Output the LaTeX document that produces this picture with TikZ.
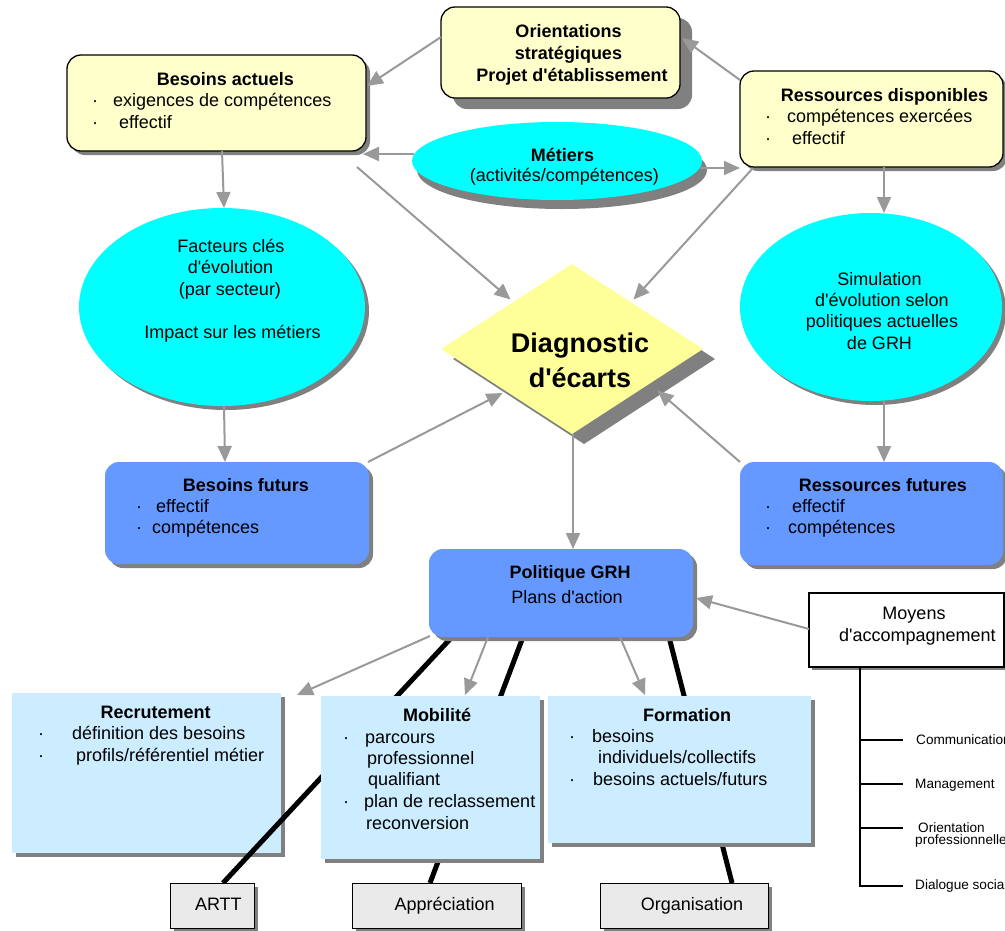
\documentclass[tikz,border=0pt]{standalone}
\usepackage{fontspec}
\setmainfont{Liberation Sans}[Ligatures=TeXOff]
\usetikzlibrary{shapes.geometric,shadows,arrows.meta,calc,backgrounds}

\definecolor{paleyellow}{HTML}{FFFFCC}
\definecolor{diamyellow}{HTML}{FFFF99}
\definecolor{aqua}{HTML}{00FFFF}
\definecolor{midblue}{HTML}{6699FF}
\definecolor{paleblue}{HTML}{CCECFF}
\definecolor{shade}{HTML}{808080}
\definecolor{linkgray}{HTML}{999999}
\definecolor{boxgray}{HTML}{EAEAEA}

\tikzset{
  sh/.style={general shadow={fill=shade, shadow xshift=4pt, shadow yshift=-4pt}},
  bigsh/.style={general shadow={fill=shade, shadow xshift=12pt, shadow yshift=-10pt}},
  box/.style={rectangle, inner sep=0pt, outer sep=0pt},
  yellowbox/.style={box, draw=black, line width=1.3pt, fill=paleyellow, rounded corners=14pt},
  bluebox/.style={box, fill=midblue, rounded corners=14pt, sh},
  actionbox/.style={box, fill=paleblue, sh},
  tagbox/.style={box, draw=black, line width=1pt, fill=boxgray, sh},
  oval/.style={ellipse, fill=aqua, inner sep=0pt, outer sep=0pt},
  link/.style={draw=linkgray, line width=2pt, -{Triangle[length=16pt,width=14pt]}},
  tie/.style={line width=5pt, black},
  tree/.style={line width=1.2pt, black},
  body/.style={font=\fontsize{18}{21.5}\selectfont, anchor=base, inner sep=0pt},
  bodyl/.style={body, anchor=base west},
  head/.style={body, font=\fontsize{18}{21.5}\selectfont\bfseries},
  big/.style={body, font=\fontsize{27}{33}\selectfont\bfseries},
  small/.style={font=\fontsize{13.6}{13}\selectfont, anchor=base west, inner sep=0pt},
}

\begin{document}
\begin{tikzpicture}[x=1pt, y=-1pt]
\useasboundingbox (0,0) rectangle (1005,930);

% ---- upper row ----
\node[yellowbox, general shadow={fill=shade, shadow xshift=12pt, shadow yshift=-11pt},
      minimum width=239pt, minimum height=91pt] (or) at (560.5,52.5) {};
\node[yellowbox, sh, minimum width=299pt, minimum height=96pt] (ba) at (216.5,103) {};
\node[yellowbox, sh, minimum width=263pt, minimum height=96pt] (rd) at (871.5,119) {};
\node[oval, general shadow={fill=shade, shadow xshift=5pt, shadow yshift=-9pt},
      minimum width=290pt, minimum height=78pt] (me) at (557,161) {};

% ---- middle ----
\node[oval, sh, minimum width=286pt, minimum height=198pt] (fa) at (222,307) {};
\node[oval, sh, minimum width=262pt, minimum height=188pt] (si) at (871,307) {};
\node[diamond, fill=diamyellow, inner sep=0pt, outer sep=0pt, bigsh,
      minimum width=262pt, minimum height=170pt] (di) at (572,349) {};
\node[bluebox, minimum width=264pt, minimum height=102pt] (bf) at (237,513) {};
\node[bluebox, minimum width=263pt, minimum height=103pt] (rf) at (871.5,513.5) {};
\node[bluebox, minimum width=264pt, minimum height=88pt] (po) at (561,593) {};
\node[box, draw=black, line width=1.2pt, fill=white,
      general shadow={fill=shade, shadow xshift=3pt, shadow yshift=-3pt},
      minimum width=195pt, minimum height=74pt] (mo) at (906.5,630) {};

% ---- action plans ----
\node[actionbox, minimum width=219pt, minimum height=163pt] (mb) at (430.5,777.5) {};
\node[actionbox, minimum width=263pt, minimum height=147pt] (fo) at (679.5,769.5) {};
\node[tagbox, minimum width=84pt, minimum height=45pt] (ar) at (212,905.5) {};
\node[tagbox, minimum width=169pt, minimum height=45pt] (ap) at (436.5,905.5) {};
\node[tagbox, minimum width=168pt, minimum height=45pt] (og) at (684,905.5) {};

% recruitment box, then the thick ties, all behind the other boxes
\begin{pgfonlayer}{background}
  \node[actionbox, minimum width=269pt, minimum height=160pt] (rc) at (146.5,773) {};
  \draw[tie] ($(po.south)+(-109,0)$) -- ($(ar.north)+(11,0)$);
  \draw[tie] ($(po.south)+(-38,0)$) -- ($(ap.north)+(-6.5,0)$);
  \draw[tie] ($(po.south)+(108,0)$) -- ($(og.north)+(48,0)$);
\end{pgfonlayer}

% ---- texts ----
\node[head] (or1) at (568.5,37) {Orientations};
\node[head] (or2) at (568.5,59) {stratégiques};
\node[head] (or3) at (572,81) {Projet d'établissement};

\node[head] (ba0) at (225.5,85) {Besoins actuels};
\node[body] (ba1d) at (95,106) {·};
\node[bodyl] (ba1) at (113,106) {exigences de compétences};
\node[body] (ba2d) at (95,128) {·};
\node[bodyl] (ba2) at (119,128) {effectif};

\node[head] (rd0) at (884.5,101) {Ressources disponibles};
\node[body] (rd1d) at (768,122) {·};
\node[bodyl] (rd1) at (787,122) {compétences exercées};
\node[body] (rd2d) at (768,144) {·};
\node[bodyl] (rd2) at (792,144) {effectif};

\node[head] (me0) at (562.5,161) {Métiers};
\node[body] (me1) at (564.3,181) {(activités/compétences)};

\node[body] (fa1) at (231,252) {Facteurs clés};
\node[body] (fa2) at (230.5,273) {d'évolution};
\node[body] (fa3) at (230,295) {(par secteur)};
\node[body] (fa4) at (232.5,338) {Impact sur les métiers};

\node[body] (si1) at (879.5,285) {Simulation};
\node[body] (si2) at (882,306) {d'évolution selon};
\node[body] (si3) at (882,327) {politiques actuelles};
\node[body] (si4) at (879.5,349) {de GRH};

\node[big] (di1) at (580,352) {Diagnostic};
\node[big] (di2) at (580,387) {d'écarts};

\node[head] (bf0) at (246,491) {Besoins futurs};
\node[body] (bf1d) at (139,512) {·};
\node[bodyl] (bf1) at (156,512) {effectif};
\node[body] (bf2d) at (139,533) {·};
\node[bodyl] (bf2) at (152,533) {compétences};

\node[head] (rf0) at (883,491) {Ressources futures};
\node[body] (rf1d) at (768,512) {·};
\node[bodyl] (rf1) at (792,512) {effectif};
\node[body] (rf2d) at (768,533) {·};
\node[bodyl] (rf2) at (788,533) {compétences};

\node[head] (po0) at (570,578) {Politique GRH};
\node[body] (po1) at (567,603) {Plans d'action};

\node[body] (mo1) at (914,619) {Moyens};
\node[body] (mo2) at (917.5,641) {d'accompagnement};

\node[head] (rc0) at (155.6,718) {Recrutement};
\node[body] (rc1d) at (41,739) {·};
\node[bodyl] (rc1) at (72,739) {définition des besoins};
\node[body] (rc2d) at (41,761) {·};
\node[bodyl] (rc2) at (76,761) {profils/référentiel métier};

\node[head] (mb0) at (437,721) {Mobilité};
\node[body] (mb1d) at (346,743) {·};
\node[bodyl] (mb1) at (365,743) {parcours};
\node[bodyl] (mb2) at (367,764) {professionnel};
\node[bodyl] (mb3) at (368,785) {qualifiant};
\node[body] (mb4d) at (346,807) {·};
\node[bodyl] (mb4) at (364,807) {plan de reclassement};
\node[bodyl] (mb5) at (366,829) {reconversion};

\node[head] (fo0) at (687,721) {Formation};
\node[body] (fo1d) at (572,742) {·};
\node[bodyl] (fo1) at (592,742) {besoins};
\node[bodyl] (fo2) at (598,763) {individuels/collectifs};
\node[body] (fo3d) at (572,785) {·};
\node[bodyl] (fo3) at (593,785) {besoins actuels/futurs};

\node[body] (ar0) at (218.4,910) {ARTT};
\node[body] (ap0) at (444.7,910) {Appréciation};
\node[body] (og0) at (692,910) {Organisation};

% ---- support means tree ----
\node[small] (t1) at (916,744) {Communication};
\node[small] (t2) at (915,788) {Management};
\node[small] (t3) at (918,832) {Orientation};
\node[small] (t3b) at (915,844) {professionnelle};
\node[small] (t4) at (915,889) {Dialogue social};
\coordinate (trunk) at ($(mo.south west)+(51,0)$);
\coordinate (e1) at ($(t1.base west)+(-13,-4)$);
\coordinate (e2) at ($(t2.base west)+(-12,-4)$);
\coordinate (e3) at ($(t3.base west)+(-15,-4)$);
\coordinate (e4) at ($(t4.base west)+(-12,-3)$);
\draw[tree] (trunk) |- (e4);
\draw[tree] (trunk |- e1) -- (e1);
\draw[tree] (trunk |- e2) -- (e2);
\draw[tree] (trunk |- e3) -- (e3);

% ---- gray arrows ----
\draw[link] ($(or.north west)+(0,30)$) -- ($(ba.north east)+(1,31)$);
\draw[link] ($(rd.north west)+(0,9)$) -- ($(or.north east)+(2,31)$);
\draw[link] ($(me.west)+(2,-7)$) -- ($(ba.south east)+(-3,3)$);
\draw[link] ($(me.east)+(-2,7)$) -- ($(rd.south west)+(0,1)$);
\draw[link] ($(ba.south east)+(-9,16)$) -- ($(di.north west)+(4,-7)$);
\draw[link] ($(rd.south west)+(13,1)$) -- ($(di.north east)+(-4,-7)$);
\draw[link] ($(ba.south)+(5.5,0)$) -- ($(fa.north)+(2,0)$);
\draw[link] ($(rd.south)+(12.5,0)$) -- ($(si.north)+(13,0)$);
\draw[link] ($(fa.south)+(2,0)$) -- ($(bf.north)+(-12,0)$);
\draw[link] ($(si.south)+(13,0)$) -- ($(rf.north)+(12.5,0)$);
\draw[link] ($(bf.north east)+(-1,0)$) -- ($(di.south west)+(-4,1.5)$);
\draw[link] (rf.north west) -- ($(di.south east)+(20,-1)$);
\draw[link] ($(di.south)+(1,0)$) -- ($(po.north)+(12,0)$);
\draw[link] ($(mo.west)+(0,-1)$) -- ($(po.east)+(3,5)$);
\draw[link] ($(po.south west)+(1,-1)$) -- ($(rc.north east)+(16,2)$);
\draw[link] ($(po.south)+(-73,0)$) -- ($(mb.north)+(34.5,-1)$);
\draw[link] ($(po.south)+(59,0)$) -- ($(fo.north)+(-34.5,-1)$);
\end{tikzpicture}
\end{document}
